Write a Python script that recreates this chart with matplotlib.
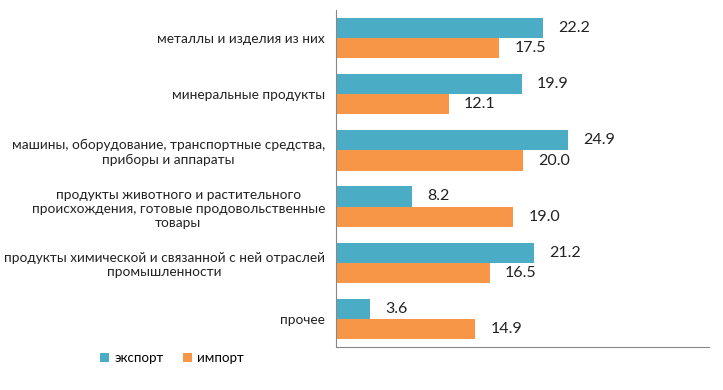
import matplotlib
matplotlib.use("Agg")
import matplotlib.pyplot as plt
import numpy as np

categories = [
    "металлы и изделия из них",
    "минеральные продукты",
    "машины, оборудование, транспортные средства,\nприборы и аппараты",
    "продукты животного и растительного\nпроисхождения, готовые продовольственные\nтовары",
    "продукты химической и связанной с ней отраслей\nпромышленности",
    "прочее",
]
export_vals = [22.2, 19.9, 24.9, 8.2, 21.2, 3.6]
import_vals = [17.5, 12.1, 20.0, 19.0, 16.5, 14.9]
series_names = ["экспорт", "импорт"]
colors = ["#4BACC6", "#F79646"]

plt.rcParams['font.family'] = ['Lato', 'DejaVu Sans']

fig = plt.figure(figsize=(7.23, 3.9), dpi=100)
ax = fig.add_axes([336/723, 1 - 347/390, 373/723, 337/390])

y = np.arange(len(categories))
h = 0.36
b1 = ax.barh(y - h/2, export_vals, height=h, color=colors[0], label=series_names[0])
b2 = ax.barh(y + h/2, import_vals, height=h, color=colors[1], label=series_names[1])

for bars, vals in ((b1, export_vals), (b2, import_vals)):
    for rect, v in zip(bars, vals):
        ax.annotate(f"{v:.1f}", xy=(rect.get_width(), rect.get_y() + rect.get_height()/2),
                    xytext=(11, 0), textcoords="offset points", ha="left", va="center",
                    fontsize=11.5, color="#222222")

ax.set_xlim(0, 40)
ax.set_ylim(len(categories) - 0.5, -0.5)
ax.set_yticks(y)
ax.set_yticklabels(categories, fontsize=9.8, multialignment="center", color="#222222")
ax.tick_params(axis="y", length=0, pad=8)
ax.set_xticks([])
for s in ("top", "right"):
    ax.spines[s].set_visible(False)
ax.spines["left"].set_color("#888888")
ax.spines["bottom"].set_color("#888888")

leg = fig.legend(handles=[b1, b2], labels=series_names, loc="center left",
                 bbox_to_anchor=(88/723, 1 - 358/390), ncol=2, frameon=False,
                 fontsize=9.6, handlelength=0.7, handleheight=0.7, handletextpad=0.4,
                 columnspacing=1.4)

fig.savefig("out.png", dpi=100)
